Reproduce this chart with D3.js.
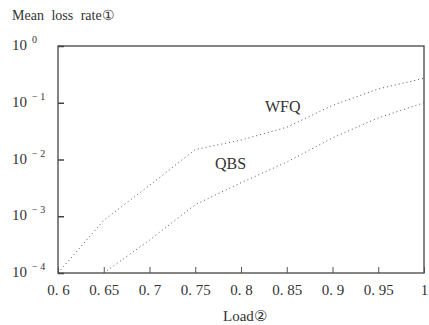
<!DOCTYPE html>
<html>
<head>
<meta charset="utf-8">
<script src="https://cdn.jsdelivr.net/npm/d3@7"></script>
<style>
body { margin: 0; background: #fff; }
text { font-family: "Liberation Serif", "DejaVu Serif", serif; fill: #333; }
</style>
</head>
<body>
<div id="chart"></div>
<script>
var w = 429;
var h = 325;
var margin = { top: 46, right: 5, bottom: 52, left: 58 };

// loads on the x axis
var loads = [0.6, 0.65, 0.7, 0.75, 0.8, 0.85, 0.9, 0.95, 1.0];
// mean loss rate
var wfq = [1e-4, 8.5e-4, 3.5e-3, 1.5e-2, 2.2e-2, 3.7e-2, 9e-2, 0.175, 0.27];
var qbs = [null, 1e-4, 3.8e-4, 1.6e-3, 3.9e-3, 9e-3, 0.024, 0.054, 0.1];

var xTicks = [0.6, 0.65, 0.7, 0.75, 0.8, 0.85, 0.9, 0.95, 1];
var xTickLabels = ["0. 6", "0. 65", "0. 7", "0. 75", "0. 8", "0. 85", "0. 9", "0. 95", "1"];
var yTicks = [1, 1e-1, 1e-2, 1e-3, 1e-4];
var yExponents = ["0", "\u2212 1", "\u2212 2", "\u2212 3", "\u2212 4"];

var svg = d3.select("#chart")
	.append("svg")
	.attr("width", w)
	.attr("height", h);

var x = d3.scaleLinear()
	.domain([0.6, 1])
	.range([margin.left, w - margin.right]);

var y = d3.scaleLog()
	.domain([1e-4, 1])
	.range([h - margin.bottom, margin.top]);

// frame
svg.append("rect")
	.attr("x", x(0.6))
	.attr("y", y(1))
	.attr("width", x(1) - x(0.6))
	.attr("height", y(1e-4) - y(1))
	.attr("fill", "none")
	.attr("stroke", "#444")
	.attr("stroke-width", 1.3);

// bottom axis, ticks pointing inward
var xAxis = d3.axisBottom(x)
	.tickValues(xTicks)
	.tickSize(-6)
	.tickPadding(11)
	.tickFormat(function (d, i) { return xTickLabels[i]; });

var gx = svg.append("g")
	.attr("transform", "translate(0," + (h - margin.bottom) + ")")
	.call(xAxis);
gx.select(".domain").remove();
gx.selectAll("line").attr("stroke", "#555");
gx.selectAll("text")
	.style("font-family", '"Liberation Serif", serif')
	.style("font-size", "15px")
	.attr("fill", "#333");

// left axis
var yAxis = d3.axisLeft(y)
	.tickValues(yTicks)
	.tickSize(-6)
	.tickFormat("");

var gy = svg.append("g")
	.attr("transform", "translate(" + margin.left + ",0)")
	.call(yAxis);
gy.select(".domain").remove();
gy.selectAll("line").attr("stroke", "#444").attr("stroke-width", 1.5);

// y tick labels as 10 with a raised exponent
var yl = svg.append("g").selectAll("text")
	.data(yTicks)
	.enter()
	.append("text")
	.attr("x", 12)
	.attr("y", function (d) { return y(d) + 4; })
	.style("font-size", "15px");
yl.append("tspan").text("10");
yl.append("tspan")
	.attr("dx", 5)
	.attr("dy", -7)
	.style("font-size", "10px")
	.text(function (d, i) { return yExponents[i]; });

// curves
var line = d3.line()
	.defined(function (d) { return d[1] != null; })
	.x(function (d) { return x(d[0]); })
	.y(function (d) { return y(d[1]); });

function drawCurve(values) {
	svg.append("path")
		.datum(loads.map(function (l, i) { return [l, values[i]]; }))
		.attr("d", line)
		.attr("fill", "none")
		.attr("stroke", "#555")
		.attr("stroke-width", 1)
		.attr("stroke-dasharray", "1,3");
}
drawCurve(wfq);
drawCurve(qbs);

// series labels
svg.append("text")
	.attr("x", 265)
	.attr("y", 112)
	.style("font-size", "16px")
	.attr("fill", "#222")
	.text("WFQ");
svg.append("text")
	.attr("x", 215)
	.attr("y", 169)
	.style("font-size", "16px")
	.attr("fill", "#222")
	.text("QBS");

// axis titles
svg.append("text")
	.attr("x", 12)
	.attr("y", 20)
	.style("font-size", "14px")
	.attr("word-spacing", "4px")
	.text("Mean loss rate\u2460");
svg.append("text")
	.attr("x", 223)
	.attr("y", 321)
	.style("font-size", "15px")
	.text("Load\u2461");
</script>
</body>
</html>
